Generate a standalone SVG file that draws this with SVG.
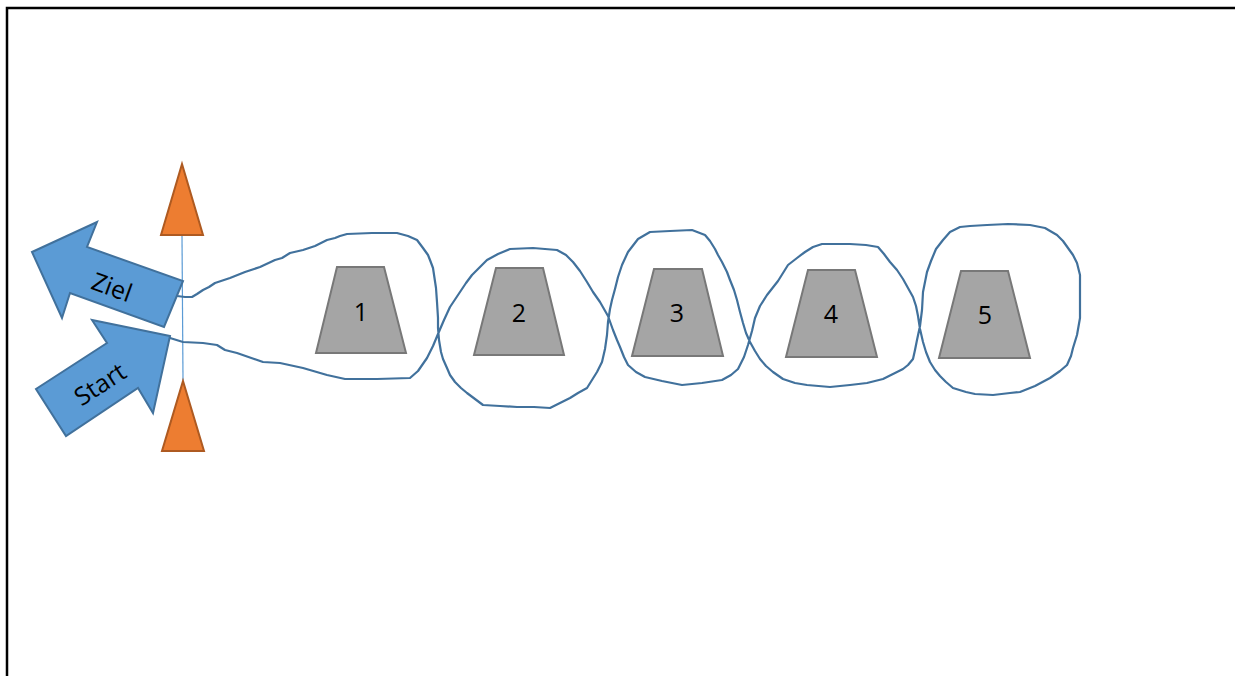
<svg xmlns="http://www.w3.org/2000/svg" width="1235" height="676" viewBox="0 0 1235 676">
  <style>
    .frame { fill: none; stroke: #000; stroke-width: 2.5; }
    .cone { fill: #ED7D31; stroke: #AE5A21; stroke-width: 2; stroke-linejoin: miter; }
    .gate { stroke: #5B9BD5; stroke-width: 1.2; }
    .arrow { fill: #5B9BD5; stroke: #41719C; stroke-width: 2; stroke-linejoin: miter; }
    .pylon { fill: #A5A5A5; stroke: #787878; stroke-width: 2; }
    .route { fill: none; stroke: #41719C; stroke-width: 2.2; stroke-linejoin: round; stroke-linecap: round; }
    .lbl { font-family: "Open Sans", "Noto Sans", sans-serif; font-size: 25px; fill: #000; text-anchor: middle; }
  </style>

  <!-- page border (top and left edges) -->
  <path class="frame" d="M7,676 V8 H1235"/>

  <!-- start/finish gate -->
  <g id="gate">
    <line class="gate" x1="182" y1="236" x2="183" y2="380"/>
  </g>
  <g id="cone-top">
    <polygon class="cone" points="182,164 203,235 161,235"/>
  </g>
  <g id="cone-bottom">
    <polygon class="cone" points="183,381 204,451 162,451"/>
  </g>

  <!-- direction arrows -->
  <g id="arrow-ziel">
    <polygon class="arrow" points="32,252 97,222 87,247 183,281 164,327 70,293 62,318"/>
    <text class="lbl" font-size="24" transform="translate(112,287) rotate(20)" y="9">Ziel</text>
  </g>
  <g id="arrow-start">
    <polygon class="arrow" points="170,336 92,320 107,343 36,389 66,436 138,388 153,413"/>
    <text class="lbl" font-size="24" transform="translate(100,384) rotate(-33)" y="9">Start</text>
  </g>

  <!-- pylons -->
  <g id="pylon-1">
    <polygon class="pylon" points="337,267 384,267 406,353 316,353"/>
    <text class="lbl" x="361" y="321">1</text>
  </g>
  <g id="pylon-2">
    <polygon class="pylon" points="496,268 543,268 564,355 474,355"/>
    <text class="lbl" x="519" y="322">2</text>
  </g>
  <g id="pylon-3">
    <polygon class="pylon" points="654,269 702,269 723,356 632,356"/>
    <text class="lbl" x="677" y="322">3</text>
  </g>
  <g id="pylon-4">
    <polygon class="pylon" points="808,270 855,270 877,357 786,357"/>
    <text class="lbl" x="831" y="323">4</text>
  </g>
  <g id="pylon-5">
    <polygon class="pylon" points="961,271 1008,271 1030,358 939,358"/>
    <text class="lbl" x="985" y="324">5</text>
  </g>

  <!-- driven route: slalom out, loop round pylon 5, slalom back -->
  <g id="connectors">
    <polyline class="route" points="
      170,338 183,342 203,343 217,345 225,350 237,353 263,362 280,363 303,368 327,375 345,379 377,379 410,378
      418,371 427,358 433,346 438,334 444,320 450,307 460,292 466,283 472,275 479,268 487,260 498,254 510,249 533,248 557,250
      566,255 573,262 580,271 587,282 593,292 600,302 608,316 613,330 617,340
      620,347 624,357 628,365 636,372 645,377 662,381 682,385 702,383 722,380 731,375 738,369 744,357 748,345 752,331 755,318 760,306 767,295
      778,281 788,265 797,258 805,252 813,247 822,244 850,244 866,245 878,247 884,254 890,262 897,270 903,279 908,288 913,297 916,306 918,316 920,329
      923,342 926,352 930,362 935,370 940,376 946,382 953,388 966,392 975,394 993,395 1010,393 1020,392 1035,386 1050,378 1060,371 1067,365 1071,356 1073,348 1077,335 1080,318 1080,297 1080,275 1077,263 1073,255 1068,248 1063,241 1057,235 1045,228 1030,225 1008,224 987,225 970,226 960,227 950,232 943,240 936,249 931,261 927,272 923,292 922,310 920,326
      917,340 915,350 913,359 908,365 903,369 893,374 883,379 867,383 850,385 830,387 807,385 795,383 783,379 773,372 766,366 760,359 755,351 750,342 746,333 743,323 740,312 737,300 734,290 730,280 727,272 722,262 718,255 715,249 710,241 705,235 692,230 670,231 650,232 638,239 628,252 622,265 618,277 615,289 612,300 610,309 608,322 607,335 605,349 602,362 597,372 592,380 587,388 578,393 570,398 560,403 550,408 534,407 517,407 500,406 483,405 475,399 467,393 461,388 455,382 450,375 447,368 443,359 441,352 439,340
      438,328 438,318 437,302 436,288 433,268 430,260 428,255 423,248 417,240 408,236 397,233 372,233 347,234 340,236 335,238 327,240 315,246 303,250 290,253 282,258 275,260 260,267 245,272 230,278 215,283 209,287 203,290 197,294 192,297 185,297 177,296"/>
  </g>
</svg>
